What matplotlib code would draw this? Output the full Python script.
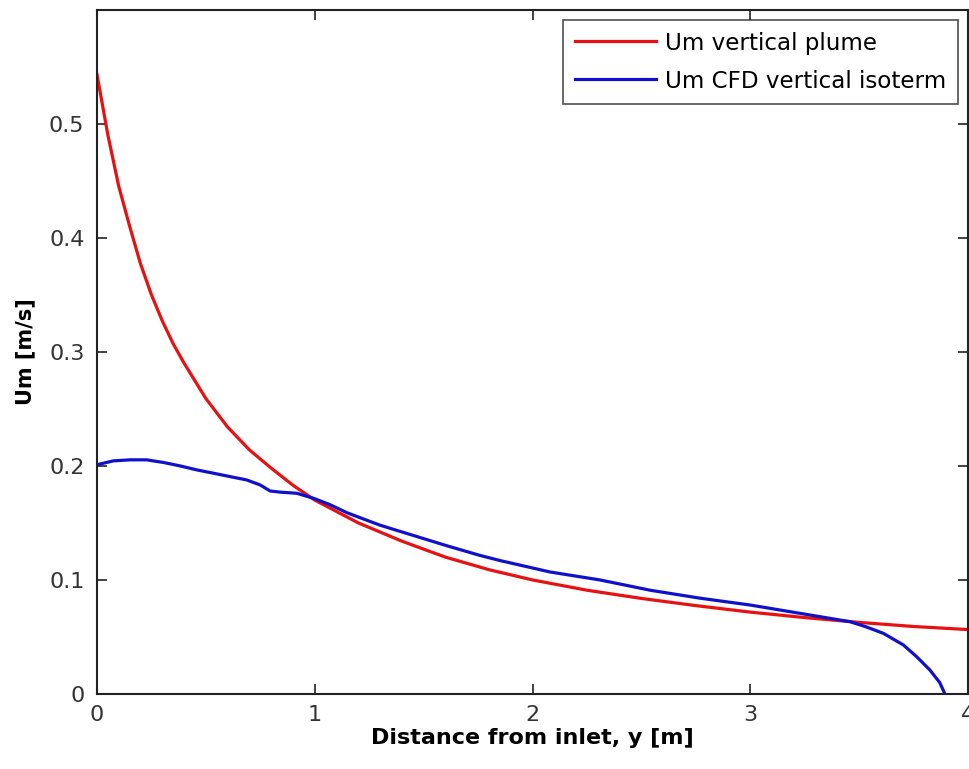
import matplotlib.pyplot as plt

plt.rcParams['font.family'] = ['DejaVu Sans']

# Um vertical plume
x_plume = [0.0, 0.05, 0.1, 0.15, 0.2, 0.25, 0.3, 0.35, 0.4, 0.5,
           0.6, 0.7, 0.8, 0.9, 1.0, 1.2, 1.4, 1.6, 1.8, 2.0,
           2.25, 2.5, 2.75, 3.0, 3.25, 3.5, 3.75, 4.0]
um_plume = [0.543, 0.490, 0.445, 0.410, 0.377, 0.350, 0.327, 0.307, 0.290, 0.259,
            0.234, 0.214, 0.198, 0.183, 0.170, 0.150, 0.134, 0.120, 0.109, 0.100,
            0.091, 0.0838, 0.0775, 0.0718, 0.0670, 0.0628, 0.0592, 0.0565]

# Um CFD vertical isoterm
x_cfd = [0.0, 0.075, 0.152, 0.228, 0.305, 0.381, 0.458, 0.534, 0.611, 0.687,
         0.749, 0.795, 0.84, 0.917, 0.994, 1.07, 1.147, 1.223, 1.30, 1.376,
         1.453, 1.606, 1.759, 1.851, 2.08, 2.31, 2.54, 2.77, 3.0, 3.229,
         3.458, 3.53, 3.611, 3.703, 3.764, 3.825, 3.87, 3.894]
um_cfd = [0.201, 0.2044, 0.2053, 0.2053, 0.203, 0.200, 0.1965, 0.1936, 0.1906, 0.1877,
          0.1833, 0.178, 0.177, 0.176, 0.1716, 0.166, 0.159, 0.1535, 0.148, 0.1435,
          0.139, 0.130, 0.1215, 0.117, 0.107, 0.100, 0.091, 0.084, 0.078, 0.0707,
          0.0634, 0.059, 0.0532, 0.043, 0.0327, 0.021, 0.010, 0.0]

fig = plt.figure(figsize=(9.7, 7.69), dpi=100)
ax = fig.add_axes([0.1, 0.0975, 0.898, 0.89])

ax.plot(x_plume, um_plume, color='#e81010', lw=2.3, label='Um vertical plume')
ax.plot(x_cfd, um_cfd, color='#1010cc', lw=2.3, label='Um CFD vertical isoterm')

ax.set_xlim(0, 4)
ax.set_ylim(0, 0.6)
ax.set_xticks([0, 1, 2, 3, 4])
ax.set_yticks([0, 0.1, 0.2, 0.3, 0.4, 0.5])
ax.set_xticklabels(['0', '1', '2', '3', '4'])
ax.set_yticklabels(['0', '0.1', '0.2', '0.3', '0.4', '0.5'])
ax.tick_params(direction='in', length=7, width=1.2, top=True, right=True,
               labelsize=16, colors='#222222', labelcolor='#333333')
ax.tick_params(axis='x', pad=8)
ax.tick_params(axis='y', pad=9)
for s in ax.spines.values():
    s.set_linewidth(1.5)
    s.set_color('#222222')

ax.set_xlabel('Distance from inlet, y [m]', fontsize=16, fontweight='bold', labelpad=2)
ax.set_ylabel('Um [m/s]', fontsize=15, fontweight='bold')
ax.yaxis.set_label_coords(-0.071, 0.5)

leg = ax.legend(loc='upper right', fontsize=16.6, frameon=True, fancybox=False,
                edgecolor='#222222', handlelength=3.5, borderaxespad=0.45,
                handletextpad=0.4, labelspacing=0.65, borderpad=0.5)
leg.get_frame().set_linewidth(1.2)

fig.savefig('out.png', dpi=100)
